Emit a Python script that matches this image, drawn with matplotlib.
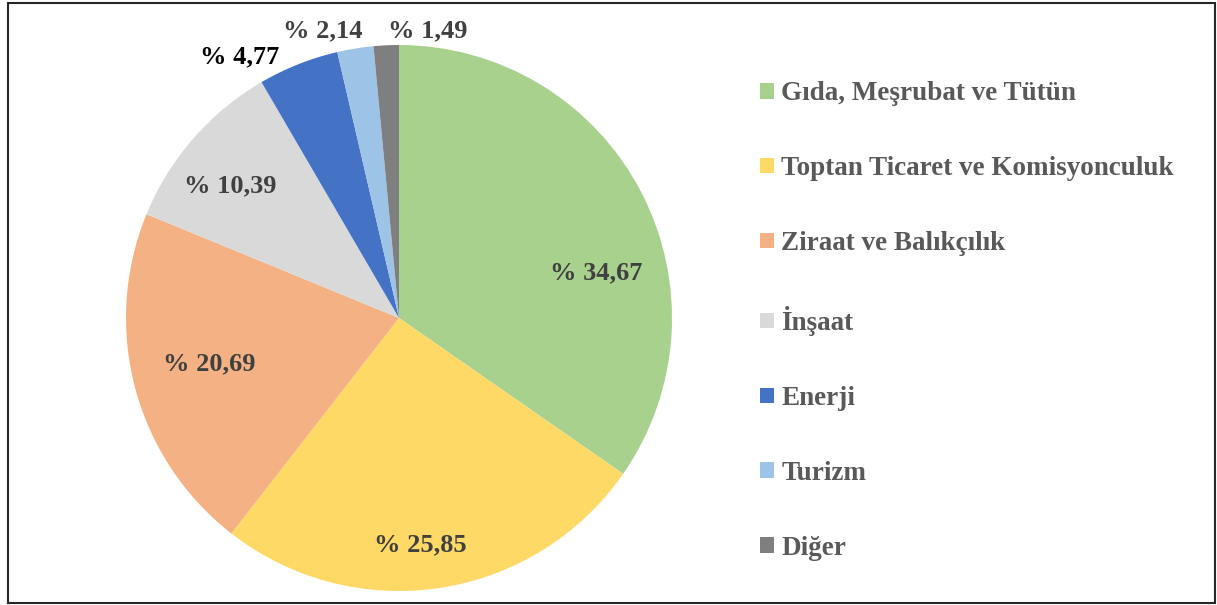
import matplotlib
matplotlib.use("Agg")
import matplotlib.pyplot as plt
from matplotlib.patches import Patch, Rectangle

categories = ["Gıda, Meşrubat ve Tütün", "Toptan Ticaret ve Komisyonculuk",
              "Ziraat ve Balıkçılık", "İnşaat", "Enerji", "Turizm", "Diğer"]
shares = [34.67, 25.85, 20.69, 10.39, 4.77, 2.14, 1.49]
colors = ["#A9D18E", "#FFD966", "#F4B183", "#D9D9D9", "#4472C4", "#9DC3E6", "#7F7F7F"]

# label positions in pie-radius units (Excel "best fit" placement)
label_pos = [(0.722, 0.165), (0.077, -0.831), (-0.696, -0.168), (-0.619, 0.484),
             (-0.582, 0.956), (-0.278, 1.052), (0.106, 1.052)]
label_colors = ["#404040"] * 4 + ["black", "#404040", "#404040"]

W, H = 1217, 605
cx, cy, r = 399, 318, 273

plt.rcParams["font.family"] = ["Liberation Serif", "DejaVu Serif"]
plt.rcParams["font.weight"] = "bold"

fig = plt.figure(figsize=(W / 100, H / 100), dpi=100)
ax = fig.add_axes([0, 0, 1, 1])

ax.pie(shares, colors=colors, startangle=90, counterclock=False, radius=1,
       wedgeprops=dict(linewidth=0))

# put the pie centre at pixel (cx, cy) with radius r
ax.set_aspect("auto")
ax.set_xlim(-cx / r, (W - cx) / r)
ax.set_ylim(-(H - cy) / r, cy / r)
ax.axis("off")

for val, (x, y), c in zip(shares, label_pos, label_colors):
    txt = "% " + f"{val:.2f}".replace(".", ",")
    ax.text(x, y, txt, ha="center", va="center", fontsize=19,
            fontweight="bold", color=c)

handles = [Patch(facecolor=c, edgecolor="none") for c in colors]
leg = fig.legend(handles, categories, loc="upper left",
                 bbox_to_anchor=(760 / W, 1 - 81.5 / H), frameon=False,
                 fontsize=19.5, labelcolor="#595959", handlelength=0.5,
                 handleheight=0.5, handletextpad=0.28, labelspacing=1.84,
                 borderpad=0, borderaxespad=0)
for t in leg.get_texts():
    t.set_fontweight("bold")

fig.patches.append(Rectangle((8 / W, 2 / H), (1215 - 8) / W, (602 - 2) / H,
                             transform=fig.transFigure, fill=False,
                             edgecolor="#262626", linewidth=1.5))

fig.savefig("out.png", dpi=100, facecolor="white")
